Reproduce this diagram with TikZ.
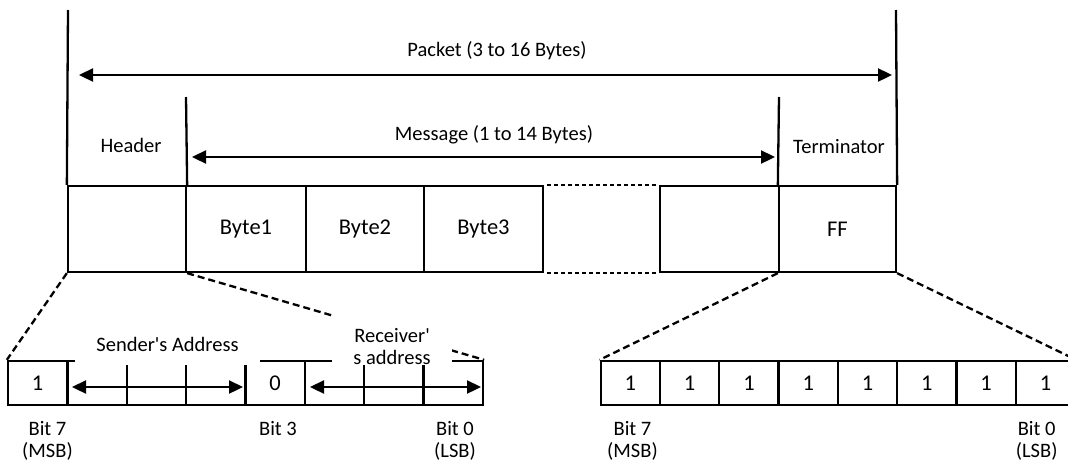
\documentclass[tikz,border=0pt]{standalone}
\usepackage{fontspec}
\setmainfont{Carlito}
\usetikzlibrary{arrows.meta}
\begin{document}
\begin{tikzpicture}[x=1pt,y=-1pt,
  txt/.style={font=\fontsize{20.5}{22}\selectfont, inner sep=0.5pt},
  bigtxt/.style={font=\fontsize{22.5}{22}\selectfont, inner sep=0.5pt},
  cell/.style={draw, line width=2.3pt, inner sep=0pt, minimum height=86pt, bigtxt},
  bitcell/.style={draw, line width=2.3pt, inner sep=0pt, minimum height=44pt, bigtxt},
  bnd/.style={line width=2.3pt},
  dimarrow/.style={line width=2.3pt, {Triangle[length=14pt,width=13pt]}-{Triangle[length=14pt,width=13pt]}},
  zoomline/.style={line width=2.3pt, dash pattern=on 7pt off 4pt},
  gapline/.style={line width=2.3pt, dash pattern=on 4pt off 3pt, dash phase=4pt},
  mask/.style={txt, fill=white, align=center},
]
\useasboundingbox (0,0) rectangle (1068,464);
\clip (0,0) rectangle (1068,464);

% main row
\node[cell, minimum width=118pt] (hdr) at (127,229) {};
\node[cell, minimum width=120pt] (b1) at (246,229) {Byte1};
\node[cell, minimum width=118pt] (b2) at (365,229) {Byte2};
\node[cell, minimum width=119pt] (b3) at (483.5,229) {Byte3};
\node[cell, minimum width=119pt] (bn) at (719.5,229) {};
\node[cell, minimum width=117pt] (term) at (837.5,229) {FF};

\draw[gapline] (b3.north east) -- (bn.north west);
\draw[gapline] (b3.south east) -- (bn.south west);

% boundaries
\coordinate (pktL) at (68,10);
\coordinate (pktR) at (896,10);
\coordinate (msgL) at (186,97);
\coordinate (msgR) at (779,97);
\draw[bnd] (pktL) -- (hdr.north west);
\draw[bnd] (pktR) -- (term.north east);
\draw[bnd] (msgL) -- (hdr.north east);
\draw[bnd] (msgR) -- (term.north west);

% dimension arrows
\coordinate (pa1) at (79,75);
\coordinate (pa2) at (892,75);
\draw[dimarrow] (pa1) -- (pa2);
\coordinate (ma1) at (192,157);
\coordinate (ma2) at (775,157);
\draw[dimarrow] (ma1) -- (ma2);

\node[txt, anchor=base] (pktlbl) at (497,56) {Packet (3 to 16 Bytes)};
\node[txt, anchor=base] (msglbl) at (494,140) {Message (1 to 14 Bytes)};
\node[txt, anchor=base] (hdrlbl) at (131,152) {Header};
\node[txt, anchor=base] (termlbl) at (839,153) {Terminator};

% bit rows
\foreach \i/\t in {1/1,2/,3/,4/,5/0,6/,7/,8/}
  \node[bitcell, minimum width=59.375pt] (l\i) at ({8+59.375*(\i-0.5)},383) {\t};
\foreach \i in {1,...,8}
  \node[bitcell, minimum width=59.3pt] (r\i) at ({600.7+59.3*(\i-0.5)},383) {1};

% zoom connectors
\draw[zoomline] (hdr.south west) -- (l1.north west);
\draw[zoomline] (hdr.south east) -- (l8.north east);
\draw[zoomline] (term.south west) -- (r1.north west);
\draw[zoomline] (term.south east) -- (r8.north east);

% field labels (white boxes)
\node[mask, minimum width=185pt, anchor=south] (sndlbl) at (167.5,365) {\rule[-12.5pt]{0pt}{27.5pt}Sender\textquotesingle s Address};
\node[mask, minimum width=120pt, anchor=south] (rcvlbl) at (392,365) {\rule{0pt}{28pt}Receiver\textquotesingle\\s address};

\coordinate (sa1) at (72,387);
\coordinate (sa2) at (243,387);
\draw[dimarrow] (sa1) -- (sa2);
\coordinate (ra1) at (310,387);
\coordinate (ra2) at (481,387);
\draw[dimarrow] (ra1) -- (ra2);

% bit labels
\node[txt, align=center, anchor=north] (lb7) at (47.5,421) {Bit 7\\(MSB)};
\node[txt, anchor=base] (lb3) at (278,435) {Bit 3};
\node[txt, align=center, anchor=north] (lb0) at (455,421) {Bit 0\\(LSB)};
\node[txt, align=center, anchor=north] (rb7) at (632.5,421) {Bit 7\\(MSB)};
\node[txt, align=center, anchor=north] (rb0) at (1036.7,421) {Bit 0\\(LSB)};
\end{tikzpicture}
\end{document}
